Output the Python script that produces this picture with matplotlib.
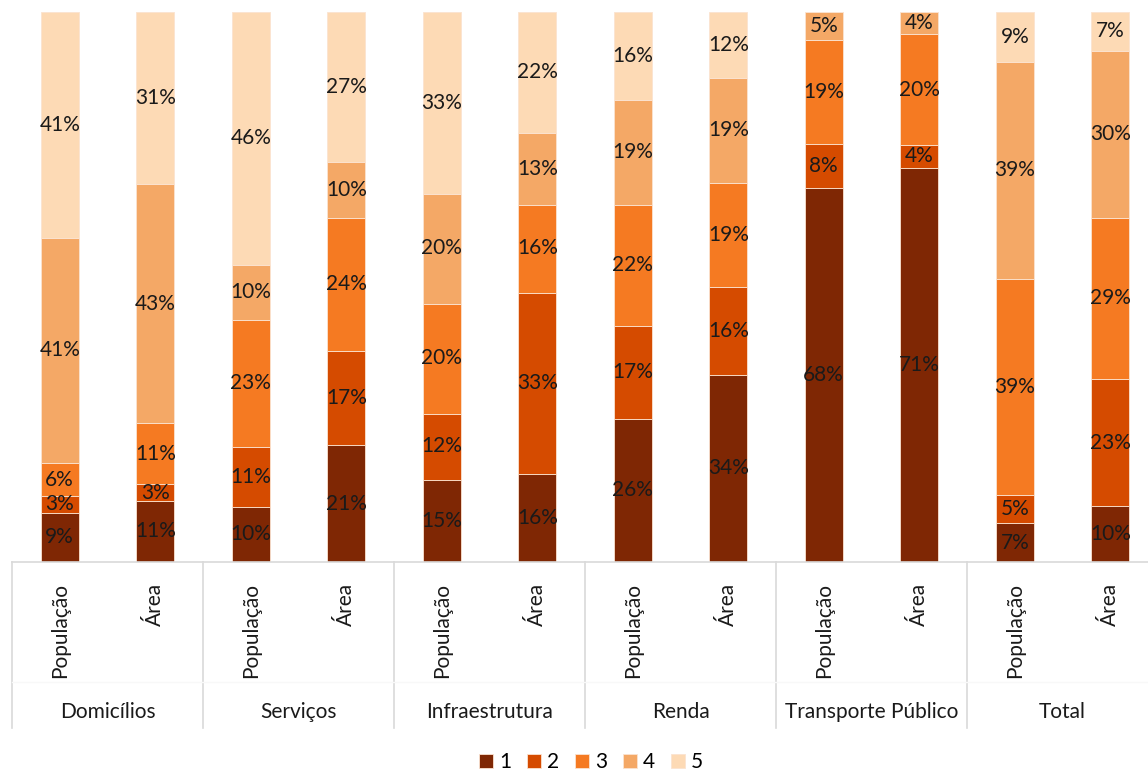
import matplotlib
matplotlib.use("Agg")
import matplotlib.pyplot as plt
import matplotlib.transforms as mtransforms
import numpy as np

plt.rcParams['font.family'] = ['Lato', 'DejaVu Sans']

groups = ['Domicílios', 'Serviços', 'Infraestrutura', 'Renda', 'Transporte Público', 'Total']
sub_labels = ['População', 'Área']
series_names = ['1', '2', '3', '4', '5']
colors = ['#7F2704', '#D54B00', '#F57A22', '#F4A866', '#FDDAB5']

# one row per bar (População, Área for each group), columns = classes 1..5 (%)
values = np.array([
    [9, 3, 6, 41, 41],
    [11, 3, 11, 43, 31],
    [10, 11, 23, 10, 46],
    [21, 17, 24, 10, 27],
    [15, 12, 20, 20, 33],
    [16, 33, 16, 13, 22],
    [26, 17, 22, 19, 16],
    [34, 16, 19, 19, 12],
    [68, 8, 19, 5, 0],
    [71, 4, 20, 4, 0],
    [7, 5, 39, 39, 9],
    [10, 23, 29, 30, 7],
], dtype=float)

W, H = 1148, 771
fig = plt.figure(figsize=(W / 100, H / 100), dpi=100)
# plot area in pixels: x 12..1158 (cut at right edge), y 12..562
ax = fig.add_axes([12 / W, (H - 562) / H, 1146 / W, 550 / H])

fs = 15
shares = values / values.sum(axis=1, keepdims=True)
x = np.arange(len(values))
bottom = np.zeros(len(values))
for k in range(5):
    ax.bar(x, shares[:, k], 0.4, bottom=bottom, color=colors[k],
           edgecolor='#FBE3D0', linewidth=0.6, label=series_names[k])
    for i in range(len(values)):
        if values[i, k] > 0:
            ax.text(x[i], bottom[i] + shares[i, k] / 2, '%d%%' % values[i, k],
                    ha='center', va='center', fontsize=fs, color='#1a1a1a')
    bottom += shares[:, k]

ax.set_xlim(-0.5, len(values) - 0.5)
ax.set_ylim(0, 1)
ax.set_yticks([])
for s in ['top', 'right', 'left']:
    ax.spines[s].set_visible(False)
ax.spines['bottom'].set_color('#D9D9D9')
ax.spines['bottom'].set_linewidth(1.2)

ax.set_xticks(x)
ax.set_xticklabels(sub_labels * len(groups), rotation=90, fontsize=fs, color='#1a1a1a')
ax.tick_params(axis='x', length=0, pad=15)
for lab in ax.get_xticklabels():
    lab.set_va('top')

trans = mtransforms.blended_transform_factory(ax.transData, ax.transAxes)
for g in range(len(groups) + 1):
    ax.plot([g * 2 - 0.5, g * 2 - 0.5], [0, -0.302], color='#D9D9D9', lw=1.2,
            transform=trans, clip_on=False)
ax.plot([-0.5, len(values) - 0.5], [-0.218, -0.218], color='#F8F8F8', lw=1,
        transform=trans, clip_on=False)
for g, name in enumerate(groups):
    ax.text(g * 2 + 0.5, -0.273, name, ha='center', va='center', fontsize=fs,
            color='#1a1a1a', transform=trans)

fig.legend(loc='center', bbox_to_anchor=(591 / W, (H - 762) / H), ncol=5,
           frameon=False, fontsize=fs, handlelength=0.67, handleheight=0.67,
           handletextpad=0.3, columnspacing=0.75)

fig.savefig('out.png', dpi=100)
